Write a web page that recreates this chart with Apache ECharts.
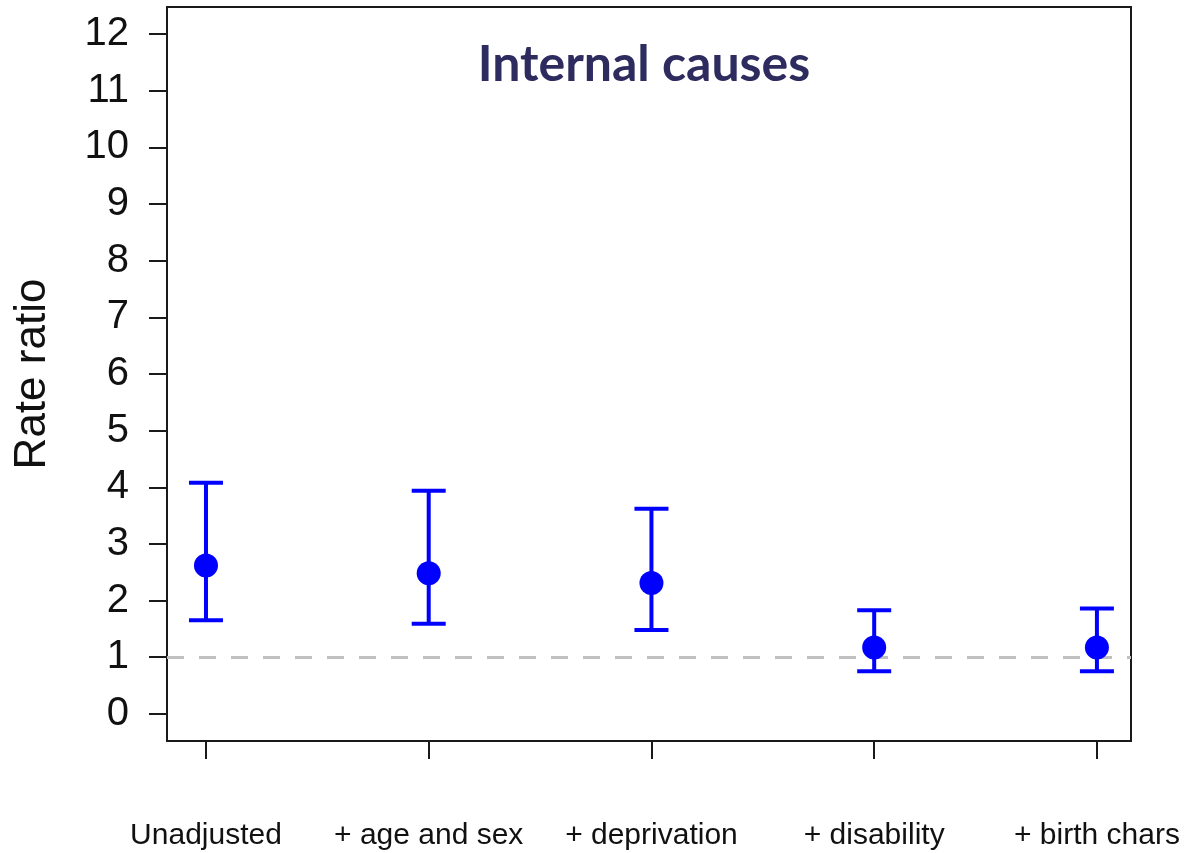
<!DOCTYPE html>
<html>
<head>
<meta charset="utf-8">
<script src="https://cdn.jsdelivr.net/npm/echarts@6/dist/echarts.min.js"></script>
<style>
html,body{margin:0;padding:0;background:#fff;}
#main{width:1188px;height:853px;}
</style>
</head>
<body>
<div id="main"></div>
<script>
var categories = ['Unadjusted', '+ age and sex', '+ deprivation', '+ disability', '+ birth chars'];
var estimates = [2.62, 2.48, 2.31, 1.17, 1.17];
var lowerCI = [1.65, 1.59, 1.48, 0.75, 0.75];
var upperCI = [4.08, 3.94, 3.62, 1.83, 1.86];
var yTicks = [0, 1, 2, 3, 4, 5, 6, 7, 8, 9, 10, 11, 12];
var xPositions = [1, 2, 3, 4, 5];
var referenceValue = 1;
var titleText = 'Internal causes';
var yAxisTitle = 'Rate ratio';

var chart = echarts.init(document.getElementById('main'), null, {renderer: 'canvas'});

var errData = xPositions.map(function (x, i) { return [x, lowerCI[i], upperCI[i]]; });
var pointData = xPositions.map(function (x, i) { return [x, estimates[i]]; });

var option = {
  backgroundColor: '#ffffff',
  animation: false,
  title: {
    text: titleText,
    left: 639,
    top: 35,
    textAlign: 'center',
    textStyle: {
      fontFamily: 'Lato',
      fontWeight: 'bold',
      fontSize: 50,
      color: '#2e2b5f'
    }
  },
  grid: {
    left: 167, right: 57, top: 7, bottom: 112,
    show: true, borderColor: '#1a1a1a', borderWidth: 2, backgroundColor: 'transparent'
  },
  xAxis: {
    type: 'value',
    min: 0.825, max: 5.153,
    splitLine: {show: false},
    axisLine: {show: true, onZero: false, lineStyle: {color: '#1a1a1a', width: 2}},
    axisTick: {show: true, length: 18, customValues: xPositions, lineStyle: {color: '#1a1a1a', width: 2}},
    axisLabel: {
      customValues: xPositions,
      margin: 80,
      fontFamily: 'Liberation Sans',
      fontSize: 30,
      color: '#111',
      formatter: function (v) { return categories[Math.round(v) - 1] || ''; }
    }
  },
  yAxis: {
    type: 'value',
    min: -0.48, max: 12.48,
    name: yAxisTitle,
    nameLocation: 'middle',
    nameGap: 112,
    nameTextStyle: {fontFamily: 'Liberation Sans', fontSize: 44, color: '#111'},
    splitLine: {show: false},
    axisLine: {show: true, onZero: false, lineStyle: {color: '#1a1a1a', width: 2}},
    axisTick: {show: true, length: 18, customValues: yTicks, lineStyle: {color: '#1a1a1a', width: 2}},
    axisLabel: {
      customValues: yTicks,
      margin: 38,
      fontFamily: 'Liberation Sans',
      fontSize: 40,
      color: '#111'
    }
  },
  series: [
    {
      type: 'custom',
      name: 'CI',
      data: errData,
      encode: {x: 0, y: [1, 2]},
      renderItem: function (params, api) {
        var x = api.value(0);
        var lo = api.coord([x, api.value(1)]);
        var hi = api.coord([x, api.value(2)]);
        var hw = 17;
        var style = {stroke: '#0000ff', lineWidth: 4, fill: null};
        return {
          type: 'group',
          children: [
            {type: 'line', shape: {x1: lo[0], y1: lo[1], x2: hi[0], y2: hi[1]}, style: style},
            {type: 'line', shape: {x1: lo[0] - hw, y1: lo[1], x2: lo[0] + hw, y2: lo[1]}, style: style},
            {type: 'line', shape: {x1: hi[0] - hw, y1: hi[1], x2: hi[0] + hw, y2: hi[1]}, style: style}
          ]
        };
      },
      z: 3
    },
    {
      type: 'scatter',
      name: 'Estimate',
      data: pointData,
      symbol: 'circle',
      symbolSize: 24,
      itemStyle: {color: '#0000ff', opacity: 1},
      z: 4,
      markLine: {
        silent: true,
        symbol: ['none', 'none'],
        label: {show: false},
        lineStyle: {color: '#c0c0c0', width: 3, type: [17, 15]},
        data: [{yAxis: referenceValue}],
        z: 2
      }
    }
  ]
};
chart.setOption(option);
</script>
</body>
</html>
